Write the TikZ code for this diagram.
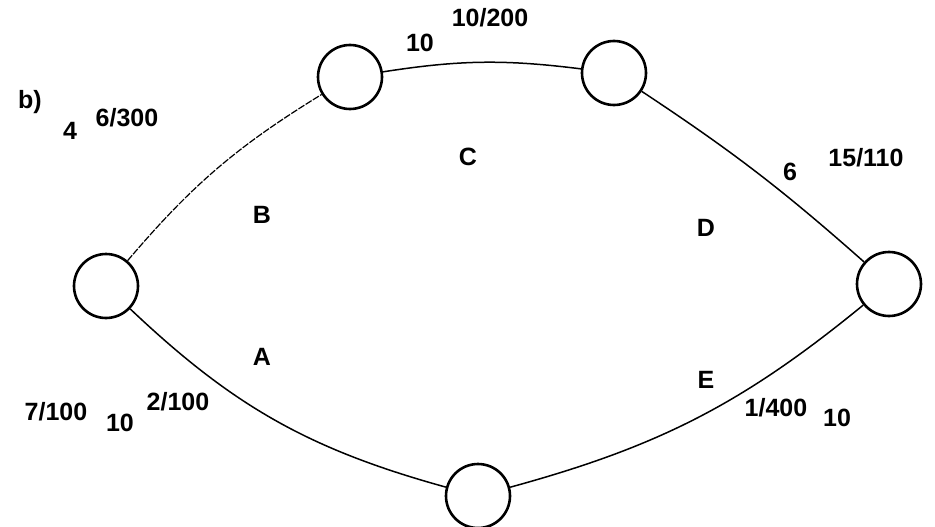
\documentclass[tikz,border=0pt]{standalone}
\usepackage{fontspec}
\setmainfont{Liberation Sans}
\begin{document}
\begin{tikzpicture}[x=1pt,y=-1pt,
  vert/.style={circle,draw,line width=2.6pt,minimum size=64pt,inner sep=0pt},
  edge/.style={line width=1.5pt},
  faint/.style={line width=1.2pt,dash pattern=on 7pt off 1.5pt},
  lab/.style={font=\fontsize{25}{25}\selectfont\bfseries,inner sep=0pt}]
\useasboundingbox (0,0) rectangle (935,527);
\node[vert] (L) at (106,286) {};
\node[vert] (TL) at (350,77) {};
\node[vert] (TR) at (614,73) {};
\node[vert] (R) at (889,284) {};
\node[vert] (Bo) at (478,496) {};
\draw[faint] (L) to[bend left=9] (TL);
\draw[edge] (TL) to[bend left=8] (TR);
\draw[edge] (TR) to[bend left=4] (R);
\draw[edge] (L) to[bend right=14] (Bo);
\draw[edge] (Bo) to[bend right=12] (R);
\node[lab] (lb) at (30,102) {b)};
\node[lab] (l4) at (70,131) {4};
\node[lab] (l6) at (127,118) {6/300};
\node[lab] (lB) at (262,215) {B};
\node[lab] (l10a) at (420,43) {10};
\node[lab] (l10b) at (490,18) {10/200};
\node[lab] (lC) at (468,157) {C};
\node[lab] (l6b) at (790,172) {6};
\node[lab] (l15) at (866,158) {15/110};
\node[lab] (lD) at (706,228) {D};
\node[lab] (lA) at (262,357) {A};
\node[lab] (lE) at (706,380) {E};
\node[lab] (l7) at (56,412) {7/100};
\node[lab] (l10c) at (120,423) {10};
\node[lab] (l2) at (178,402) {2/100};
\node[lab] (l1) at (776,408) {1/400};
\node[lab] (l10d) at (837,418) {10};
\end{tikzpicture}
\end{document}
